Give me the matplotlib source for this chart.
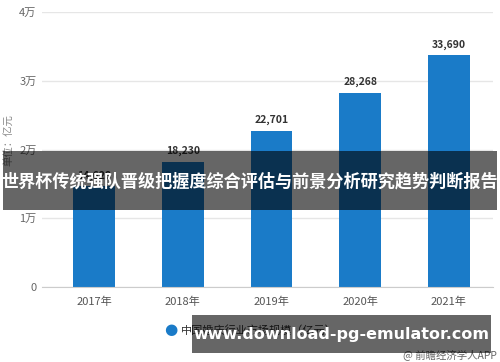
import matplotlib
matplotlib.use('Agg')
import matplotlib.pyplot as plt
from matplotlib.patches import Rectangle

plt.rcParams['font.family'] = ['Noto Sans CJK SC', 'DejaVu Sans']

# data
years = ['2017年', '2018年', '2019年', '2020年', '2021年']
market_size = [14628, 18230, 22701, 28268, 33690]
ytick_values = [0, 10000, 20000, 30000, 40000]
ytick_labels = ['0', '1万', '2万', '3万', '4万']

title = '世界杯传统强队晋级把握度综合评估与前景分析研究趋势判断报告'
series_name = '中国婚庆行业市场规模（亿元）'
url_text = 'www.download-pg-emulator.com'
source_text = '@ 前瞻经济学人APP'

W, H = 500, 362
BAR_COLOR = '#1a7bc8'


def fx(px):
    return px / W


def fy(py):
    return 1 - py / H


fig = plt.figure(figsize=(W / 100, H / 100), dpi=100)
ax = fig.add_axes([fx(42), fy(287), fx(493) - fx(42), fy(12) - fy(287)])

x = list(range(len(years)))
bars = ax.bar(x, market_size, width=0.47, color=BAR_COLOR, zorder=3)

for b, v in zip(bars, market_size):
    ax.annotate('{:,}'.format(v), (b.get_x() + b.get_width() / 2, v),
                xytext=(0, 4), textcoords='offset points',
                ha='center', va='bottom', fontsize=7.5,
                fontweight='bold', color='#333333', zorder=4)

# category band is offset a bit to the right of the grid start
ax.set_xlim(-0.586, 4.496)
ax.set_ylim(0, 40000)
ax.set_yticks(ytick_values)
ax.set_yticklabels(ytick_labels)
ax.set_xticks(x)
ax.set_xticklabels(years)
ax.tick_params(axis='y', length=0, labelsize=8, colors='#666666', pad=4)
ax.tick_params(axis='x', length=0, labelsize=8, colors='#555555', pad=7)
ax.grid(axis='y', color='#e6e6e6', linewidth=1, zorder=0)
for s in ['top', 'right', 'left']:
    ax.spines[s].set_visible(False)
ax.spines['bottom'].set_color('#cccccc')
ax.spines['bottom'].set_zorder(5)

fig.text(fx(9), fy(140), '单位：亿元', rotation=90, ha='center', va='center',
         fontsize=7.5, color='#888888')

# legend
fig.text(fx(171), fy(330), '●', ha='center', va='center', fontsize=11,
         color=BAR_COLOR, family='DejaVu Sans')
fig.text(fx(181), fy(330), series_name, ha='left', va='center',
         fontsize=8, color='#333333')
fig.text(fx(497), fy(355), source_text, ha='right', va='center',
         fontsize=7.5, color='#666666')

# overlay banners
fig.patches.append(Rectangle((fx(3), fy(210)), fx(497) - fx(3), fy(151) - fy(210),
                             transform=fig.transFigure, facecolor='black',
                             alpha=0.6, zorder=10))
fig.text(fx(250), fy(181), title, ha='center', va='center', fontsize=12.3,
         fontweight='bold', color='white', zorder=11)

fig.patches.append(Rectangle((fx(192), fy(353)), fx(491) - fx(192), fy(315) - fy(353),
                             transform=fig.transFigure, facecolor='black',
                             alpha=0.6, zorder=10))
fig.text(fx(341), fy(334), url_text, ha='center', va='center', fontsize=11.5,
         fontweight='bold', color='white', family='DejaVu Sans', zorder=11)

fig.savefig('out.png', dpi=100)
